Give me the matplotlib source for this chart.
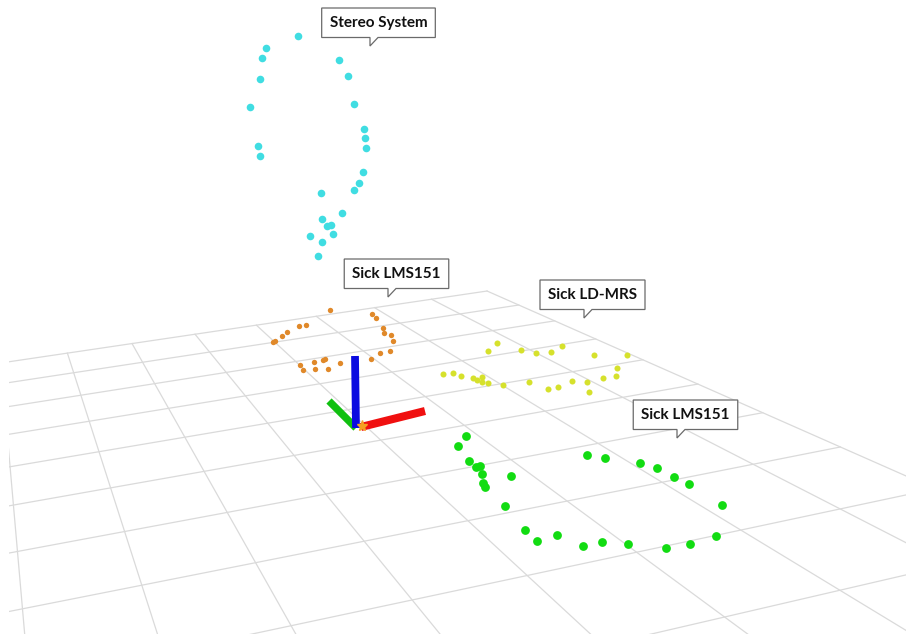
import numpy as np
import matplotlib
matplotlib.use("Agg")
import matplotlib.pyplot as plt
from matplotlib.patches import Polygon, Rectangle

# point clouds (screen pixels)
stereo_x = [298, 266, 262, 260, 250, 258, 260, 339, 348, 354, 364, 365, 366, 363, 359,
            354, 321, 342, 322, 327, 331, 333, 310, 322, 318]
stereo_y = [36, 48, 58, 79, 107, 146, 156, 60, 76, 104, 129, 138, 148, 172, 183,
            190, 193, 213, 219, 226, 225, 234, 236, 242, 256]

lms_top_x = [330, 372, 376, 306, 299, 287, 282, 275, 273, 383, 384, 391, 393, 390, 380,
             371, 340, 325, 323, 314, 300, 303, 315, 328]
lms_top_y = [310, 314, 318, 325, 326, 332, 336, 341, 342, 328, 333, 335, 341, 351, 353,
             359, 363, 359, 360, 362, 365, 370, 369, 369]

ldmrs_x = [497, 488, 521, 536, 551, 562, 594, 627, 617, 616, 603, 587, 589, 572, 558,
           548, 529, 503, 488, 482, 482, 477, 473, 461, 453, 443]
ldmrs_y = [343, 351, 350, 353, 352, 346, 355, 355, 368, 376, 378, 382, 392, 381, 387,
           389, 382, 385, 383, 382, 377, 380, 378, 376, 373, 374]

lms_bottom_x = [466, 458, 469, 476, 480, 482, 483, 485, 511, 505, 525, 537, 557, 583,
                602, 628, 666, 690, 716, 722, 689, 674, 657, 640, 605, 587]
lms_bottom_y = [436, 446, 461, 467, 466, 474, 483, 487, 476, 506, 530, 541, 535, 546,
                542, 544, 548, 544, 536, 505, 484, 477, 468, 463, 458, 455]

label_texts = ["Stereo System", "Sick LMS151", "Sick LD-MRS", "Sick LMS151"]
label_tip_x = [370, 388, 584, 677]
label_tip_y = [46, 297, 318, 438]

# sensor frame: origin and ends of the x (red), y (green), z (blue) axes
frame_origin = (356, 428)
frame_x_end = (425, 411)
frame_y_end = (329, 401)
frame_z_end = (355, 356)

# ground grid cell indices (columns / rows)
grid_cols = list(range(-4, 7))
grid_rows = list(range(0, 13))

# ground plane -> screen homography (camera view)
H = np.array([[-63.86, 1.5325, 256.4],
              [4.829, -3.9845, 325.15],
              [-0.01273, -0.0613, 1.0]])


def project(t, v):
    p = H @ np.array([t, v, 1.0])
    return p[0] / p[2], p[1] / p[2]


fig = plt.figure(figsize=(9.06, 6.37), dpi=100)
ax = fig.add_axes([0, 0, 1, 1])
ax.set_xlim(0, 906)
ax.set_ylim(637, 0)
ax.axis("off")

clip = Rectangle((9, 0), 897, 634, transform=ax.transData)
grid_kw = dict(color="#dadada", lw=0.9, zorder=1)
t0, t1 = grid_cols[0], grid_cols[-1]
v0, v1 = grid_rows[0], grid_rows[-1]
for t in grid_cols:
    a, b = project(t, v0), project(t, v1)
    ln, = ax.plot([a[0], b[0]], [a[1], b[1]], **grid_kw)
    ln.set_clip_path(clip)
for v in grid_rows:
    a, b = project(t0, v), project(t1, v)
    ln, = ax.plot([a[0], b[0]], [a[1], b[1]], **grid_kw)
    ln.set_clip_path(clip)

# point clouds
ax.scatter(stereo_x, stereo_y, s=30, color="#40dde2", lw=0, zorder=3)
ax.scatter(lms_top_x, lms_top_y, s=15, color="#e0892a", lw=0, zorder=3)
ax.scatter(ldmrs_x, ldmrs_y, s=19, color="#d6e12c", lw=0, zorder=3)
ax.scatter(lms_bottom_x, lms_bottom_y, s=40, color="#12dc12", lw=0, zorder=3)

# sensor frame axes
ax.plot([frame_origin[0], frame_y_end[0]], [frame_origin[1], frame_y_end[1]],
        color="#10c010", lw=5.3, solid_capstyle="butt", zorder=4)
ax.plot([frame_origin[0] + 5, frame_x_end[0]], [frame_origin[1] - 1, frame_x_end[1]],
        color="#f01010", lw=5.8, solid_capstyle="butt", zorder=4)
ax.plot([frame_origin[0], frame_z_end[0]], [frame_origin[1], frame_z_end[1]],
        color="#0a0ae0", lw=5.6, solid_capstyle="butt", zorder=5)
ax.plot([frame_origin[0] + 6], [frame_origin[1] - 2], marker="*", ms=8,
        color="#f5a020", mec="#f5a020", zorder=6)

# callout labels
fig.canvas.draw()
renderer = fig.canvas.get_renderer()
inv = ax.transData.inverted()
for text, tx, ty in zip(label_texts, label_tip_x, label_tip_y):
    bottom = ty - 8.5
    top = bottom - 29.5
    txt = ax.text(tx + 8.5, bottom - 14.5, text, ha="center", va="center",
                  fontsize=11, fontweight="bold", family="Lato", color="#111111",
                  zorder=8)
    bb = txt.get_window_extent(renderer)
    (x0, _), (x1, _) = inv.transform([[bb.x0, bb.y0], [bb.x1, bb.y1]])
    left, right = min(x0, x1) - 8, max(x0, x1) + 8
    outline = [(left, top), (right, top), (right, bottom), (tx + 8, bottom),
               (tx, ty), (tx, bottom), (left, bottom)]
    ax.add_patch(Polygon(outline, closed=True, facecolor="white",
                         edgecolor="#6a6a6a", lw=0.9, zorder=7))

fig.savefig("out.png", dpi=100)
